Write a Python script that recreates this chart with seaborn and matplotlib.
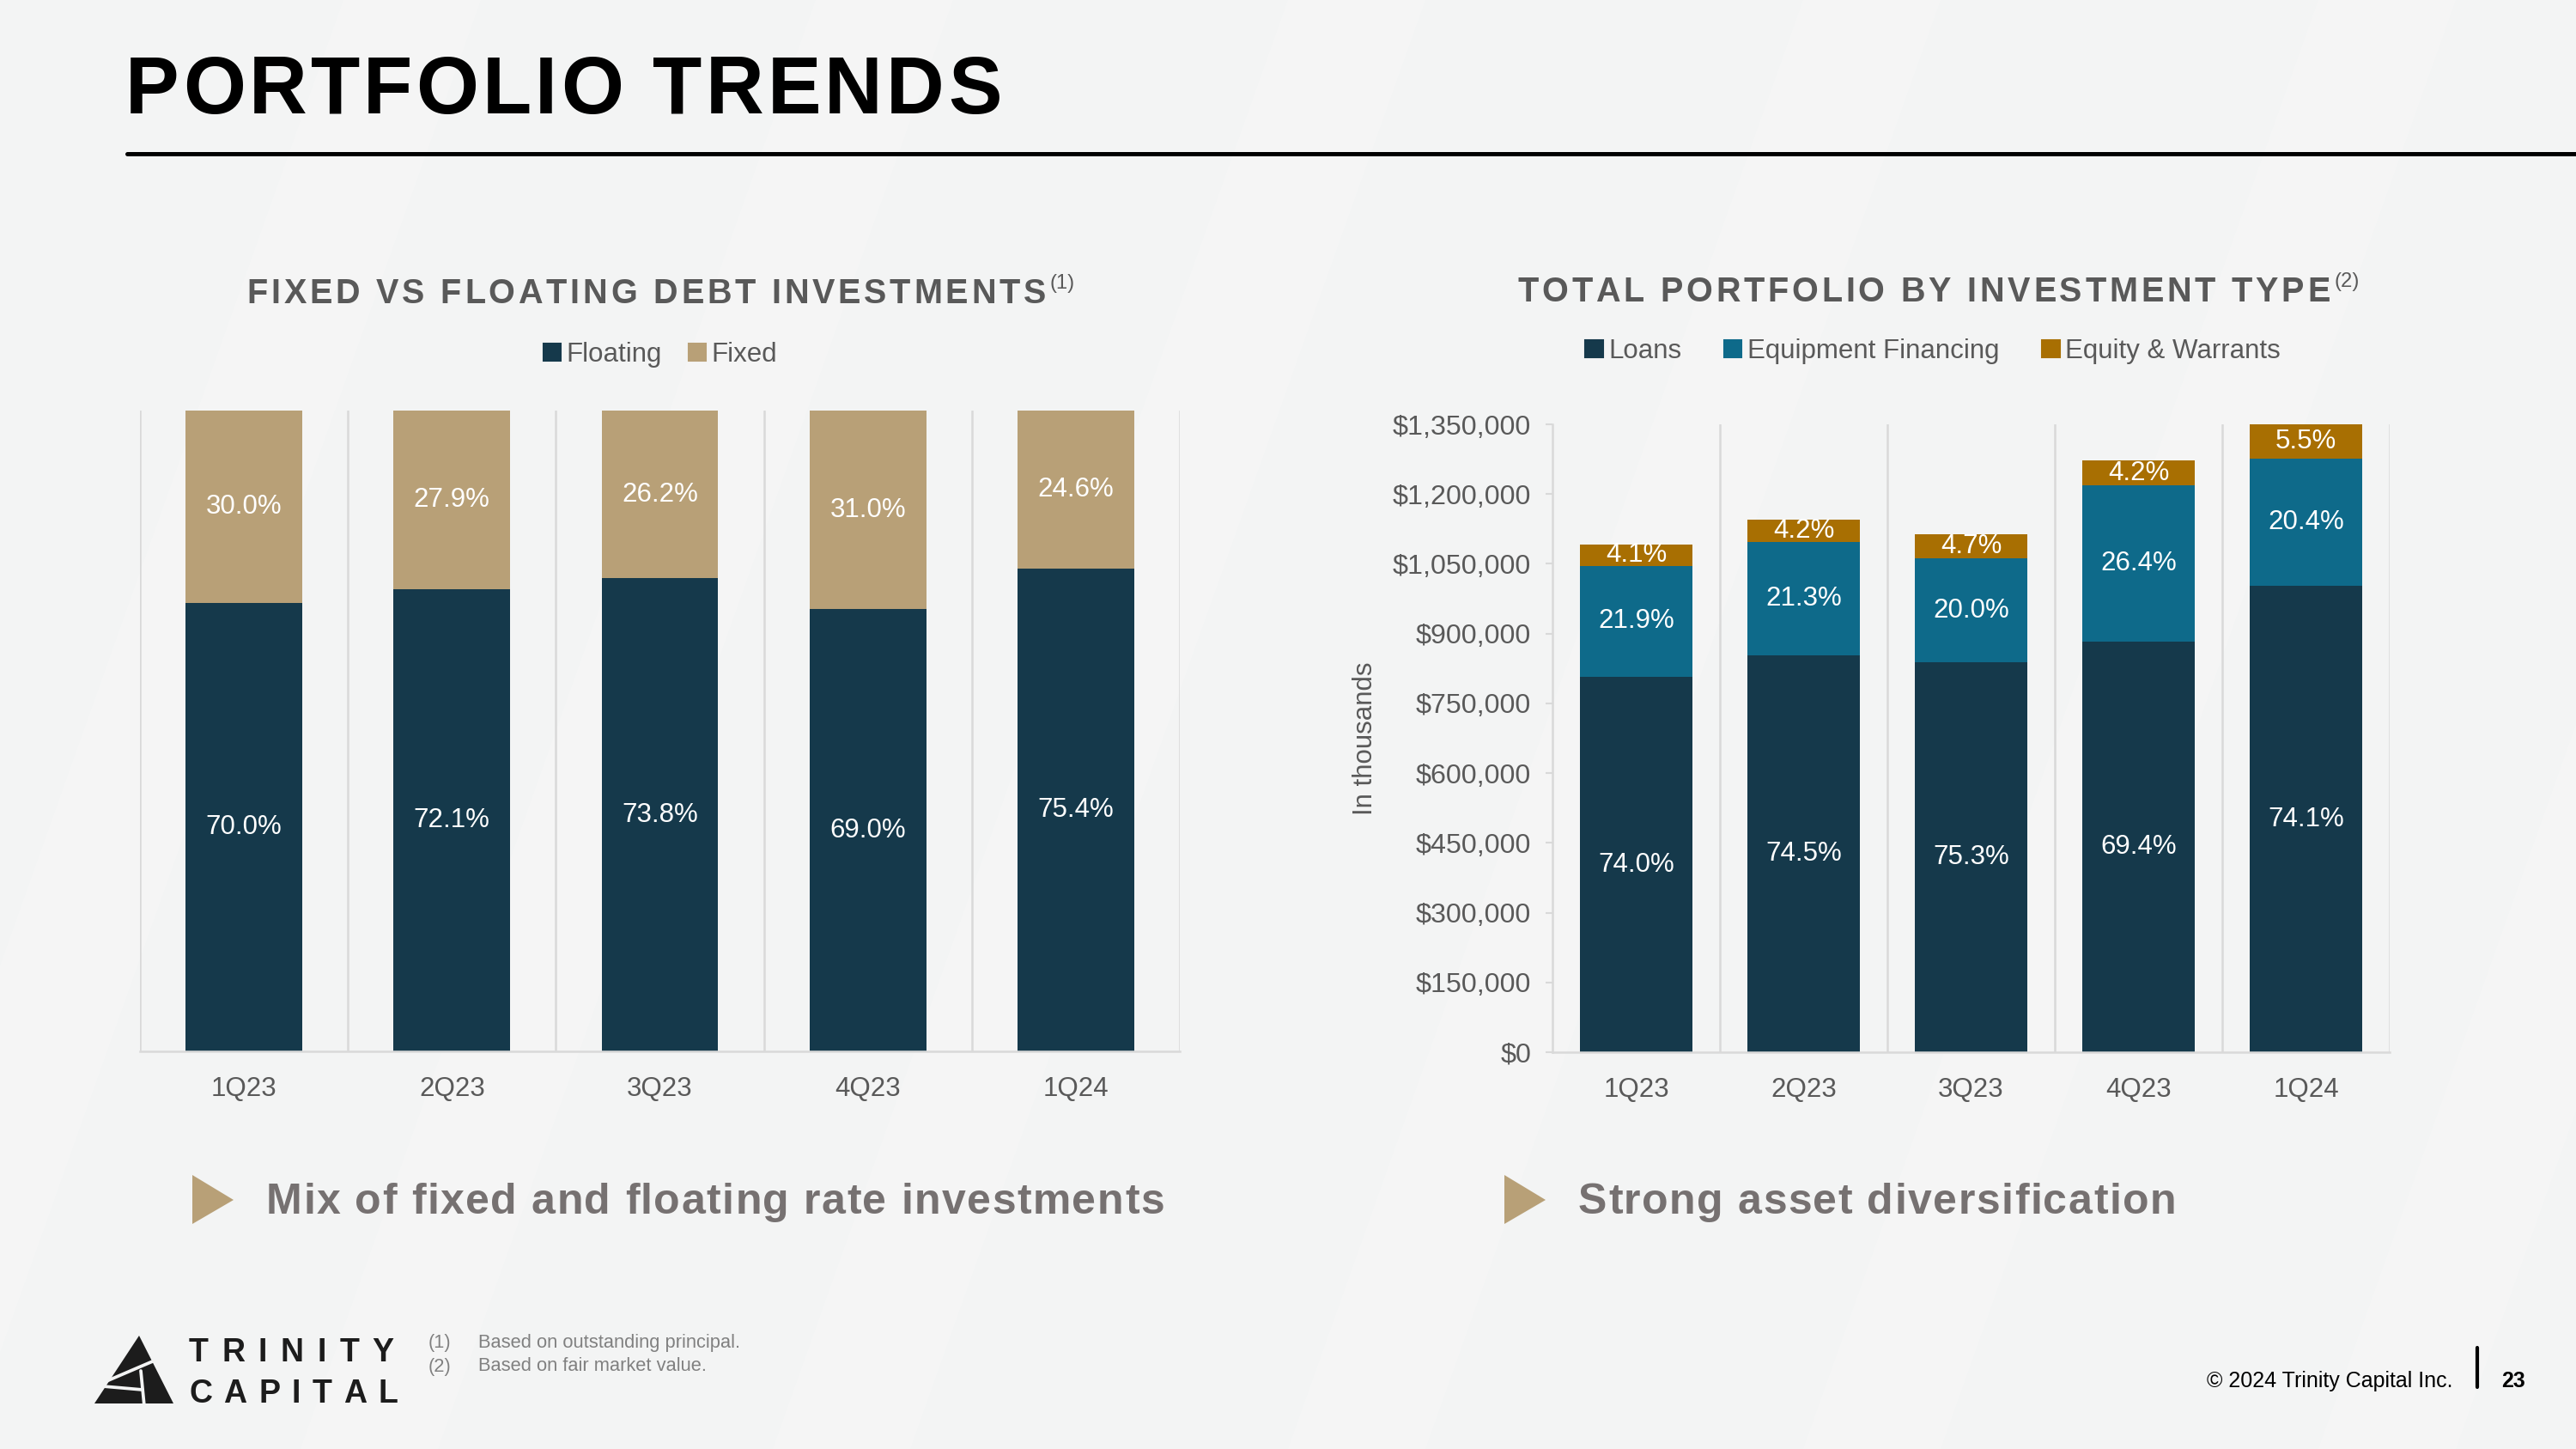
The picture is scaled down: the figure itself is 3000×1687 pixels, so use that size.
import matplotlib
matplotlib.use("Agg")
import matplotlib.pyplot as plt
import seaborn as sns
from matplotlib.patches import Patch, Polygon
from matplotlib.lines import Line2D

# data
quarters = ["1Q23", "2Q23", "3Q23", "4Q23", "1Q24"]
floating_pct = [70.0, 72.1, 73.8, 69.0, 75.4]
fixed_pct = [30.0, 27.9, 26.2, 31.0, 24.6]

# total portfolio, $ in thousands
loans = [807000, 853000, 838000, 883000, 1002000]
equipment = [239000, 244000, 223000, 336000, 275000]
equity = [45000, 48000, 52000, 53000, 73000]
loans_lbl = ["74.0%", "74.5%", "75.3%", "69.4%", "74.1%"]
equipment_lbl = ["21.9%", "21.3%", "20.0%", "26.4%", "20.4%"]
equity_lbl = ["4.1%", "4.2%", "4.7%", "4.2%", "5.5%"]
yticks = [0, 150000, 300000, 450000, 600000, 750000, 900000, 1050000, 1200000, 1350000]

NAVY = "#15394b"
TAN = "#b8a077"
TEAL = "#0e6a8a"
GOLD = "#a86f02"
GRID = "#d9d9d9"
TXT = "#595959"
BG = "#f3f4f4"

sns.set_theme(style="white")
plt.rcParams["font.family"] = ["Liberation Sans", "DejaVu Sans"]

W, H, DPI = 3000, 1687, 150
fig = plt.figure(figsize=(W / DPI, H / DPI), dpi=DPI, facecolor=BG)

# faint diagonal streaks in the background
for x0 in [-200, 350, 900, 1500, 2100, 2700]:
    fig.patches.append(Polygon([[(x0) / W, 0], [(x0 + 160) / W, 0], [(x0 + 760) / W, 1], [(x0 + 600) / W, 1]],
                               closed=True, transform=fig.transFigure, facecolor="white", alpha=0.18,
                               edgecolor="none", zorder=-5))

renderer = fig.canvas.get_renderer()


def measure(s, size, weight):
    t = fig.text(0, 0, s, fontsize=size, fontweight=weight)
    w = t.get_window_extent(renderer).width
    t.remove()
    return w


def spaced(x, y, s, gap, size, weight="bold", color="black", align="left", sup=None):
    # x, y in pixels from top-left, y is the baseline
    widths = [size * DPI / 72 * 0.28 if ch == " " else measure(ch, size, weight) for ch in s]
    total = sum(widths) + gap * (len(s) - 1)
    sup_w = 0
    if sup:
        sup_w = measure(sup, size * 0.6, "normal") + gap
    if align == "center":
        x = x - (total + sup_w) / 2
    cx = x
    for ch, w in zip(s, widths):
        fig.text(cx / W, 1 - y / H, ch, fontsize=size, fontweight=weight, color=color,
                 ha="left", va="baseline")
        cx += w + gap
    if sup:
        fig.text((cx + 1) / W, 1 - (y - size * DPI / 72 * 0.42) / H, sup, fontsize=size * 0.6,
                 fontweight="normal", color=color, ha="left", va="baseline")


# header
spaced(146, 132, "PORTFOLIO TRENDS", 4.1, 45, "bold", "black")
fig.add_artist(Line2D([148 / W, 1], [1 - 179 / H] * 2, color="black", lw=2.4, transform=fig.transFigure))

# ---- left chart: fixed vs floating
ax1 = fig.add_axes([163 / W, 1 - 1224 / H, (1374 - 163) / W, (1224 - 478) / H])
ax1.set_facecolor("none")
cum1 = [a + b for a, b in zip(floating_pct, fixed_pct)]
sns.barplot(x=quarters, y=cum1, color=TAN, width=0.56, saturation=1, errorbar=None, linewidth=0, ax=ax1)
sns.barplot(x=quarters, y=floating_pct, color=NAVY, width=0.56, saturation=1, errorbar=None, linewidth=0, ax=ax1)
ax1.set_ylim(0, 100)
ax1.set_xlim(-0.5, 4.5)
ax1.set_yticks([])
ax1.set_xticks([i - 0.5 for i in range(6)], minor=True)
ax1.grid(True, which="minor", axis="x", color=GRID, lw=1.2)
ax1.tick_params(axis="x", which="both", length=0, pad=14, labelsize=15, labelcolor=TXT)
for s in ["left", "right", "top"]:
    ax1.spines[s].set_visible(False)
ax1.spines["bottom"].set_color(GRID)
ax1.spines["bottom"].set_linewidth(1.2)
ax1.set_xlabel("")
ax1.set_ylabel("")
for i in range(len(quarters)):
    ax1.text(i, floating_pct[i] / 2, f"{floating_pct[i]:.1f}%", color="white", fontsize=15, ha="center", va="center")
    ax1.text(i, floating_pct[i] + fixed_pct[i] / 2, f"{fixed_pct[i]:.1f}%", color="white", fontsize=15,
             ha="center", va="center")

# ---- right chart: total portfolio by type
ax2 = fig.add_axes([1808 / W, 1 - 1225 / H, (2783 - 1808) / W, (1225 - 494) / H])
ax2.set_facecolor("none")
tot = [a + b + c for a, b, c in zip(loans, equipment, equity)]
mid = [a + b for a, b in zip(loans, equipment)]
sns.barplot(x=quarters, y=tot, color=GOLD, width=0.667, saturation=1, errorbar=None, linewidth=0, ax=ax2)
sns.barplot(x=quarters, y=mid, color=TEAL, width=0.667, saturation=1, errorbar=None, linewidth=0, ax=ax2)
sns.barplot(x=quarters, y=loans, color=NAVY, width=0.667, saturation=1, errorbar=None, linewidth=0, ax=ax2)
ax2.set_ylim(0, 1350000)
ax2.set_xlim(-0.5, 4.5)
ax2.set_yticks(yticks)
ax2.set_yticklabels([f"${v:,.0f}" for v in yticks])
ax2.set_xticks([i - 0.5 for i in range(1, 6)], minor=True)
ax2.grid(True, which="minor", axis="x", color=GRID, lw=1.2)
ax2.grid(False, which="major")
ax2.tick_params(axis="x", which="both", length=0, pad=14, labelsize=15, labelcolor=TXT)
ax2.tick_params(axis="y", which="major", left=True, length=4, width=1, color=GRID, pad=8, labelsize=15.5,
                labelcolor=TXT)
for s in ["right", "top"]:
    ax2.spines[s].set_visible(False)
for s in ["left", "bottom"]:
    ax2.spines[s].set_color(GRID)
    ax2.spines[s].set_linewidth(1.2)
ax2.set_xlabel("")
ax2.set_ylabel("In thousands", fontsize=15, color=TXT, labelpad=8)
for i in range(len(quarters)):
    ax2.text(i, loans[i] / 2, loans_lbl[i], color="white", fontsize=15, ha="center", va="center")
    ax2.text(i, loans[i] + equipment[i] / 2, equipment_lbl[i], color="white", fontsize=15, ha="center", va="center")
    ax2.text(i, mid[i] + equity[i] / 2, equity_lbl[i], color="white", fontsize=15, ha="center", va="center")

# chart titles
spaced(769, 353, "FIXED VS FLOATING DEBT INVESTMENTS", 3.8, 19, "bold", TXT, "center", sup="(1)")
spaced(2257, 351, "TOTAL PORTFOLIO BY INVESTMENT TYPE", 3.8, 19, "bold", TXT, "center", sup="(2)")

# legends
leg_kw = dict(loc="center", frameon=False, fontsize=15, handlelength=0.65, handleheight=0.65,
              handletextpad=0.2, labelcolor=TXT)
fig.legend([Patch(color=NAVY), Patch(color=TAN)], ["Floating", "Fixed"], ncol=2, columnspacing=1.0,
           bbox_to_anchor=(769 / W, 1 - 413 / H), **leg_kw)
fig.legend([Patch(color=NAVY), Patch(color=TEAL), Patch(color=GOLD)],
           ["Loans", "Equipment Financing", "Equity & Warrants"], ncol=3, columnspacing=1.6,
           bbox_to_anchor=(2251 / W, 1 - 409 / H), **leg_kw)

# bullet takeaways
for tx, label in [(224, "Mix of fixed and floating rate investments"), (1752, "Strong asset diversification")]:
    fig.patches.append(Polygon([[tx / W, 1 - 1368 / H], [tx / W, 1 - 1425 / H], [(tx + 48) / W, 1 - 1397 / H]],
                               closed=True, transform=fig.transFigure, facecolor=TAN, edgecolor="none"))
    spaced(tx + 86, 1413, label, 1.5, 24, "bold", "#767171")

# footnotes
FN = "#808080"
fig.text(499 / W, 1 - 1564 / H, "(1)", fontsize=10.5, color=FN, va="center")
fig.text(557 / W, 1 - 1564 / H, "Based on outstanding principal.", fontsize=10.5, color=FN, va="center")
fig.text(499 / W, 1 - 1591 / H, "(2)", fontsize=10.5, color=FN, va="center")
fig.text(557 / W, 1 - 1591 / H, "Based on fair market value.", fontsize=10.5, color=FN, va="center")

# logo
LOGO = "#1c1c1c"
fig.patches.append(Polygon([[162 / W, 1 - 1555 / H], [110 / W, 1 - 1634 / H], [202 / W, 1 - 1634 / H]],
                           closed=True, transform=fig.transFigure, facecolor=LOGO, edgecolor="none"))
for seg in [[(124, 1608), (180, 1584)], [(164, 1596), (168, 1637)], [(120, 1614), (166, 1618)]]:
    fig.add_artist(Line2D([p[0] / W for p in seg], [1 - p[1] / H for p in seg], color=BG, lw=1.8,
                          transform=fig.transFigure))
spaced(220, 1585, "TRINITY", 15.5, 18, "bold", LOGO)
spaced(220, 1633, "CAPITAL", 13.5, 18, "bold", LOGO)

# footer
fig.text(2857 / W, 1 - 1608 / H, "\u00a9 2024 Trinity Capital Inc.", fontsize=12, color="black",
         ha="right", va="center")
fig.add_artist(Line2D([2885 / W] * 2, [1 - 1569 / H, 1 - 1615 / H], color="black", lw=2,
                      transform=fig.transFigure))
fig.text(2913 / W, 1 - 1608 / H, "23", fontsize=12, fontweight="bold", color="black", ha="left", va="center")

fig.savefig("out.png", dpi=DPI, facecolor=BG)
